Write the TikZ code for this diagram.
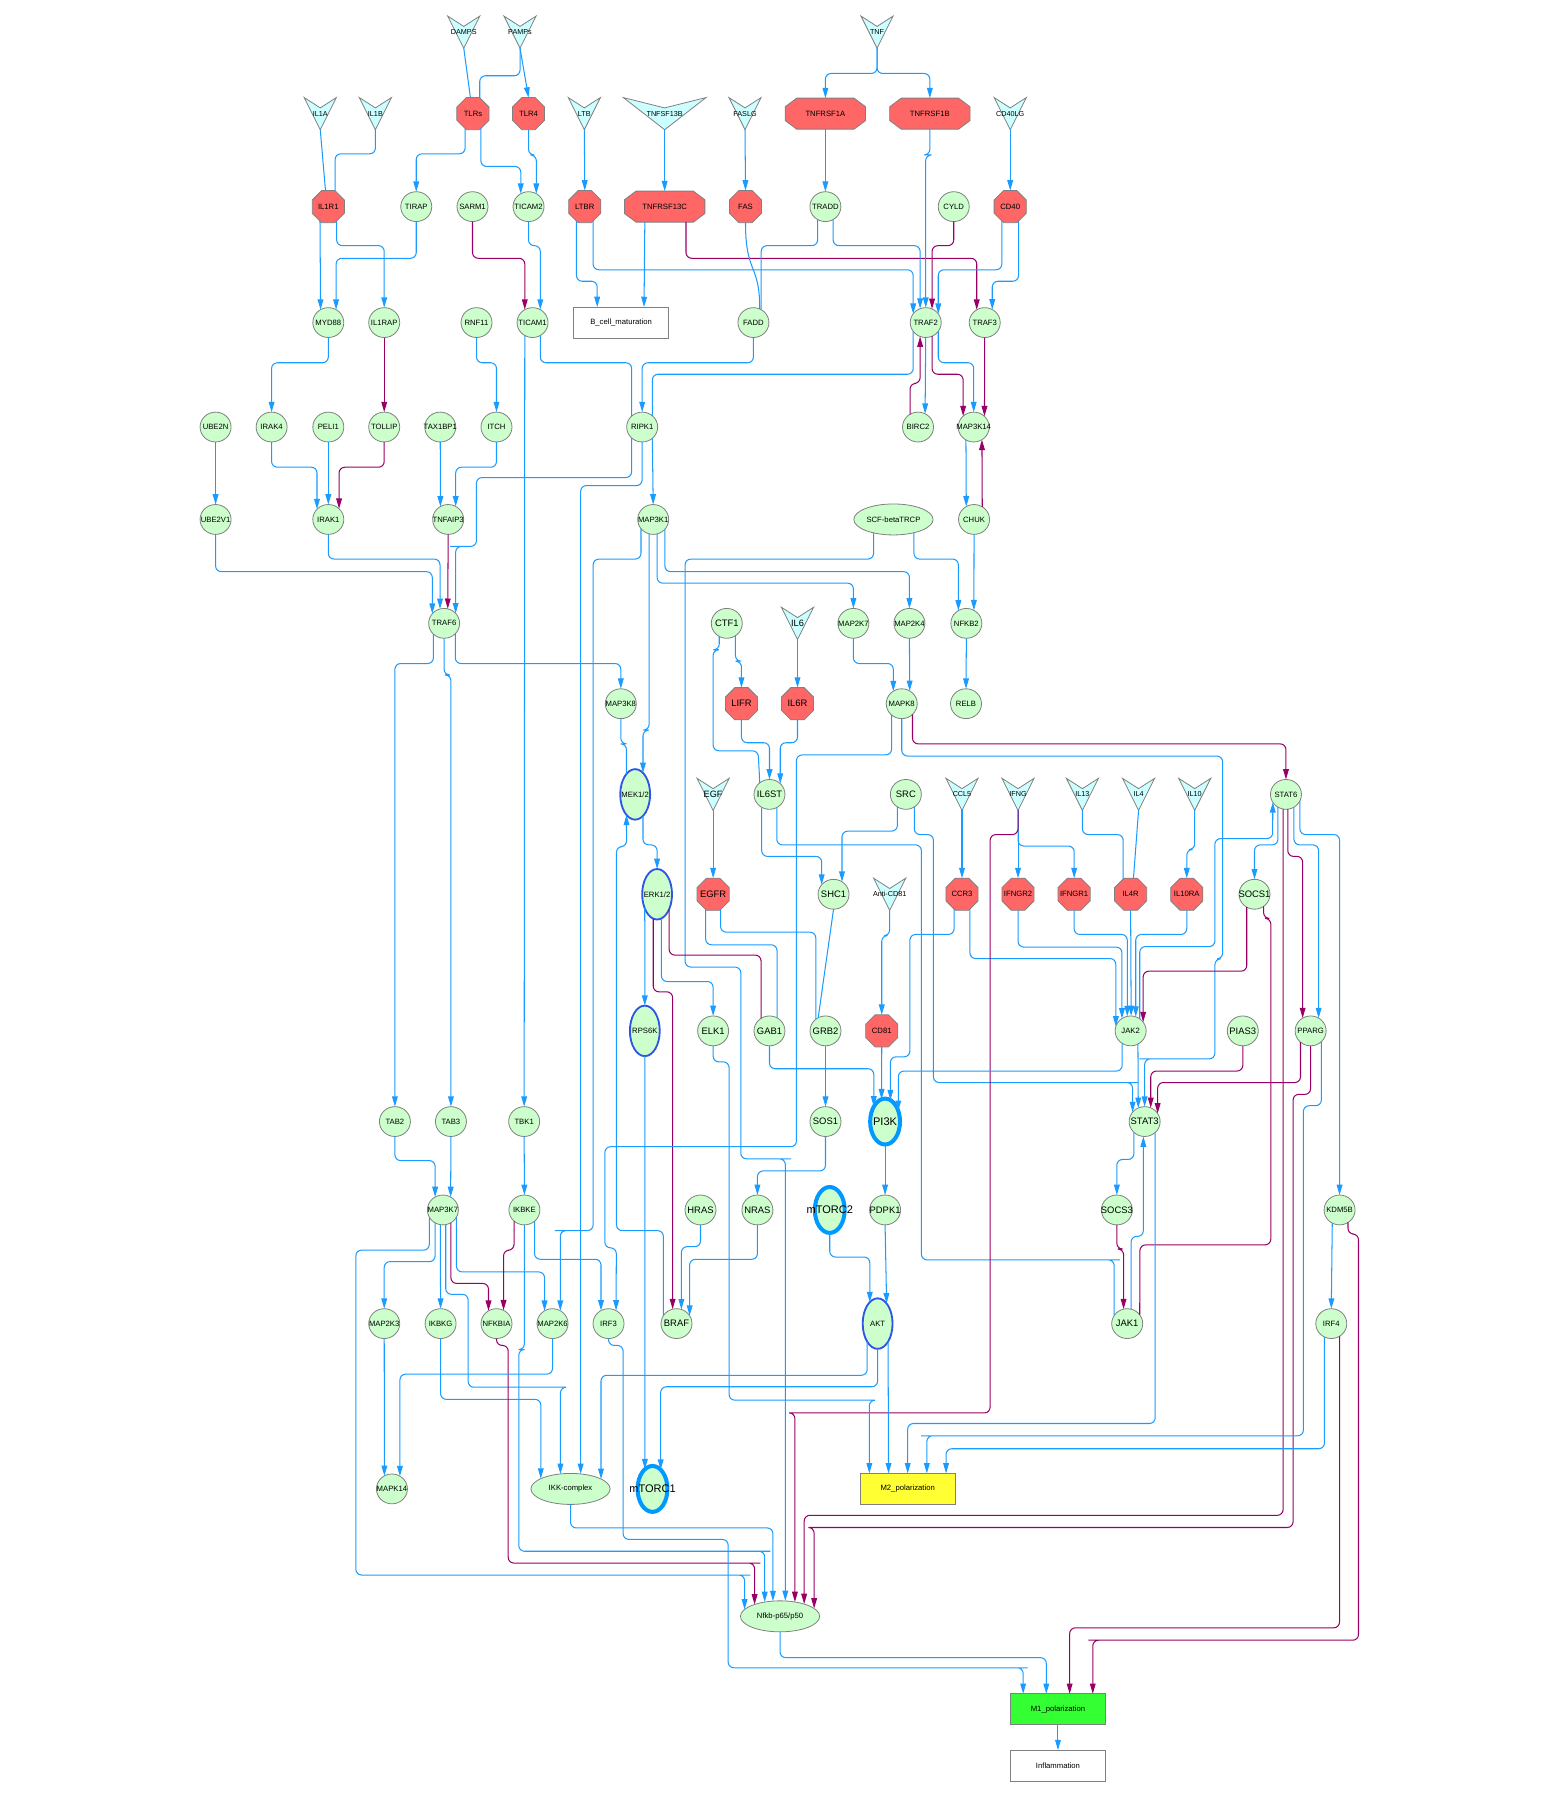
\documentclass[tikz,border=0pt]{standalone}
\usepackage{fontspec}
\setmainfont{Liberation Sans}
\usetikzlibrary{shapes.geometric,arrows.meta}
\definecolor{genefill}{RGB}{204,255,204}
\definecolor{recfill}{RGB}{255,102,102}
\definecolor{ligfill}{RGB}{204,255,255}
\definecolor{bordgray}{RGB}{128,128,128}
\definecolor{actblue}{RGB}{25,155,255}
\definecolor{inhred}{RGB}{153,0,102}
\definecolor{kinblue}{RGB}{45,85,230}
\definecolor{hubblue}{RGB}{0,153,255}
\definecolor{mtwo}{RGB}{255,255,51}
\definecolor{mone}{RGB}{51,255,51}
\tikzset{
  every node/.style={inner sep=0pt,outer sep=0pt},
  clap/.style={execute at begin node={\hbox to 0pt\bgroup\hss},execute at end node={\hss\egroup}},
  lab/.style={font=\fontsize{6.7}{7.5}\selectfont},
  big/.style={font=\fontsize{8.2}{9}\selectfont},
  gene/.style={ellipse,draw=bordgray,fill=genefill,line width=0.7pt,minimum width=27pt,minimum height=26pt,clap,lab},
  wgene/.style={gene,minimum width=69pt,minimum height=27pt},
  kin/.style={gene,draw=kinblue,line width=1.6pt,minimum width=26pt,minimum height=44pt},
  hub/.style={gene,draw=hubblue,line width=3.5pt,minimum width=26pt,minimum height=40pt,font=\fontsize{9.6}{10}\selectfont},
  rec/.style={regular polygon,regular polygon sides=8,minimum size=30.3pt,draw=bordgray,fill=recfill,line width=0.7pt,clap,lab},
  recshape/.style={fill=recfill,draw=bordgray,line width=0.7pt},
  wrec/.style={rectangle,minimum width=70pt,minimum height=27pt,lab},
  ligshape/.style={fill=ligfill,draw=bordgray,line width=0.7pt},
  lig/.style={rectangle,minimum width=28pt,minimum height=28pt,clap,font=\fontsize{6.3}{7}\selectfont},
  outbox/.style={rectangle,draw=bordgray,line width=0.8pt,minimum width=83pt,minimum height=27pt,lab},
  link/.style={draw=actblue,line width=0.9pt,rounded corners=5pt},
  act/.style={link,-{Triangle[length=9pt,width=5pt]}},
  inhl/.style={draw=inhred,line width=0.9pt,rounded corners=5pt},
  inh/.style={inhl,-{Triangle[length=9pt,width=5pt]}},
  ort/.style={to path={-- (\tikztostart|-0,#1) -| (\tikztotarget)}}
}
% ligand: V shape with a named node on it
\newcommand\ligand[5][14]{%
  \filldraw[ligshape] (#3-#1,#4-14) -- (#3,#4-5) -- (#3+#1,#4-14) -- (#3,#4+14) -- cycle;
  \node[lig] (#2) at (#3,#4) {#5};}
% wide receptor octagon
\newcommand\widerec[4]{%
  \filldraw[recshape] (#2-35,#3-6) -- (#2-25,#3-13.5) -- (#2+25,#3-13.5) -- (#2+35,#3-6) -- (#2+35,#3+6) -- (#2+25,#3+13.5) -- (#2-25,#3+13.5) -- (#2-35,#3+6) -- cycle;
  \node[wrec] (#1) at (#2,#3) {#4};}
\begin{document}
\begin{tikzpicture}[x=1pt,y=-1pt]
\useasboundingbox (0,0) rectangle (1355,1568);
% ligands
\ligand{DAMPS}{404}{28}{DAMPS}
\ligand{PAMPs}{453}{28}{PAMPs}
\ligand{TNF}{764}{28}{TNF}
\ligand{IL1A}{279}{99}{IL1A}
\ligand{IL1B}{327}{99}{IL1B}
\ligand{LTB}{509}{99}{LTB}
\ligand[36]{TNFSF13B}{579}{99}{TNFSF13B}
\ligand{FASLG}{649}{99}{FASLG}
\ligand{CD40LG}{880}{99}{CD40LG}
\ligand{IL6}{694.7}{543}{\fontsize{8}{8}\selectfont IL6}
\ligand{EGF}{621.2}{692}{\fontsize{8}{8}\selectfont EGF}
\ligand{CCL5}{838}{692}{CCL5}
\ligand{IFNG}{886.8}{692}{IFNG}
\ligand{IL13}{942.9}{692}{IL13}
\ligand{IL4}{991.8}{692}{IL4}
\ligand{IL10}{1040.7}{692}{IL10}
\ligand{AntiCD81}{775}{779}{Anti-CD81}
% receptors
\node[rec] (TLRs) at (412,99) {TLRs};
\node[rec] (TLR4) at (460.4,99) {TLR4};
\widerec{TNFRSF1A}{719}{99}{TNFRSF1A}
\widerec{TNFRSF1B}{810}{99}{TNFRSF1B}
\node[rec] (IL1R1) at (286,180) {IL1R1};
\node[rec] (LTBR) at (509.4,180) {LTBR};
\widerec{TNFRSF13C}{579}{180}{TNFRSF13C}
\node[rec] (FAS) at (649.4,180) {FAS};
\node[rec] (CD40) at (880,180) {CD40};
\node[rec,big] (LIFR) at (645.9,613) {LIFR};
\node[rec,big] (IL6R) at (694.7,613) {IL6R};
\node[rec,big] (EGFR) at (621.2,779) {EGFR};
\node[rec] (CCR3) at (838,779) {CCR3};
\node[rec] (IFNGR2) at (886.8,779) {IFNGR2};
\node[rec] (IFNGR1) at (935.7,779) {IFNGR1};
\node[rec] (IL4R) at (984.9,779) {IL4R};
\node[rec] (IL10RA) at (1033.8,779) {IL10RA};
\node[rec] (CD81) at (768.1,898) {CD81};
% genes
\node[gene] (TIRAP) at (362.6,180) {TIRAP};
\node[gene] (SARM1) at (411.6,180) {SARM1};
\node[gene] (TICAM2) at (460.4,180) {TICAM2};
\node[gene] (TRADD) at (719,180) {TRADD};
\node[gene] (CYLD) at (830.8,180) {CYLD};
\node[gene] (MYD88) at (286,281) {MYD88};
\node[gene] (IL1RAP) at (334.7,281) {IL1RAP};
\node[gene] (RNF11) at (415.1,281) {RNF11};
\node[gene] (TICAM1) at (463.9,281) {TICAM1};
\node[outbox] (Bcell) at (541,281) {B\_cell\_maturation};
\node[gene] (FADD) at (656.3,281) {FADD};
\node[gene] (TRAF2) at (806.4,281) {TRAF2};
\node[gene] (TRAF3) at (857.8,281) {TRAF3};
\node[gene] (UBE2N) at (187.8,372) {UBE2N};
\node[gene] (IRAK4) at (236.6,372) {IRAK4};
\node[gene] (PELI1) at (286,372) {PELI1};
\node[gene] (TOLLIP) at (334.7,372) {TOLLIP};
\node[gene] (TAX1BP1) at (383.5,372) {TAX1BP1};
\node[gene] (ITCH) at (432.5,372) {ITCH};
\node[gene] (RIPK1) at (559.4,372) {RIPK1};
\node[gene] (BIRC2) at (799.7,372) {BIRC2};
\node[gene] (MAP3K14) at (848.2,372) {MAP3K14};
\node[gene] (UBE2V1) at (187.8,452.5) {UBE2V1};
\node[gene] (IRAK1) at (286,452.5) {IRAK1};
\node[gene] (TNFAIP3) at (390.4,452.5) {TNFAIP3};
\node[gene] (MAP3K1) at (569,452.5) {MAP3K1};
\node[wgene] (SCF) at (778.3,452.5) {SCF-betaTRCP};
\node[gene] (CHUK) at (848.5,452.5) {CHUK};
\node[gene] (TRAF6) at (386.9,543) {TRAF6};
\node[gene,big] (CTF1) at (633.1,543) {CTF1};
\node[gene] (MAP2K7) at (743.4,543) {MAP2K7};
\node[gene] (MAP2K4) at (792.2,543) {MAP2K4};
\node[gene] (NFKB2) at (841.8,543) {NFKB2};
\node[gene] (MAP3K8) at (540.8,613) {MAP3K8};
\node[gene] (MAPK8) at (785.5,613) {MAPK8};
\node[gene] (RELB) at (841.5,613) {RELB};
\node[kin] (MEK) at (553.3,692) {MEK1/2};
\node[gene,big] (IL6ST) at (670.3,692) {IL6ST};
\node[gene,big] (SRC) at (789.1,692) {SRC};
\node[gene] (STAT6) at (1120.2,692) {STAT6};
\node[kin] (ERK) at (572.4,779) {ERK1/2};
\node[gene,big] (SHC1) at (726.1,779) {SHC1};
\node[gene,big] (SOCS1) at (1092.8,779) {SOCS1};
\node[kin] (RPS6K) at (561.7,898) {RPS6K};
\node[gene,big] (ELK1) at (621.2,898) {ELK1};
\node[gene,big] (GAB1) at (670.3,898) {GAB1};
\node[gene,big] (GRB2) at (719.1,898) {GRB2};
\node[gene] (JAK2) at (984.9,898) {JAK2};
\node[gene,big] (PIAS3) at (1082.6,898) {PIAS3};
\node[gene] (PPARG) at (1141.7,898) {PPARG};
\node[gene] (TAB2) at (344,977) {TAB2};
\node[gene] (TAB3) at (392.8,977) {TAB3};
\node[gene] (TBK1) at (456.6,977) {TBK1};
\node[gene,big] (SOS1) at (719.1,977) {SOS1};
\node[hub] (PI3K) at (771,977) {PI3K};
\node[gene,big] (STAT3) at (997.1,977) {STAT3};
\node[gene] (MAP3K7) at (385.8,1054) {MAP3K7};
\node[gene] (IKBKE) at (456.8,1054) {IKBKE};
\node[gene,big] (HRAS) at (610.2,1054) {HRAS};
\node[gene,big] (NRAS) at (659.8,1054) {NRAS};
\node[hub] (mTORC2) at (722.8,1054) {mTORC2};
\node[gene,big] (PDPK1) at (771,1054) {PDPK1};
\node[gene,big] (SOCS3) at (972.9,1054) {SOCS3};
\node[gene] (KDM5B) at (1166.9,1054) {KDM5B};
\node[gene] (MAP2K3) at (334.7,1153) {MAP2K3};
\node[gene] (IKBKG) at (383.8,1153) {IKBKG};
\node[gene] (NFKBIA) at (432.5,1153) {NFKBIA};
\node[gene] (MAP2K6) at (481.3,1153) {MAP2K6};
\node[gene] (IRF3) at (530.1,1153) {IRF3};
\node[gene,big] (BRAF) at (589.3,1153) {BRAF};
\node[kin] (AKT) at (764.5,1153) {AKT};
\node[gene,big] (JAK1) at (981.9,1153) {JAK1};
\node[gene] (IRF4) at (1159.7,1153) {IRF4};
\node[gene] (MAPK14) at (341.4,1297) {MAPK14};
\node[wgene] (IKK) at (497,1297) {IKK-complex};
\node[hub] (mTORC1) at (568.4,1297) {mTORC1};
\node[outbox,fill=mtwo] (M2) at (790.7,1297) {M2\_polarization};
\node[wgene] (Nfkb) at (679.5,1408) {Nfkb-p65/p50};
\node[outbox,fill=mone] (M1) at (921.6,1489) {M1\_polarization};
\node[outbox] (Infl) at (921.6,1538) {Inflammation};
% top receptors
\draw[link] (DAMPS.south) -- (TLRs.99);
\draw[link] (PAMPs.south) to[ort=66] (TLRs.67);
\draw[act] (PAMPs.south) -- (TLR4.north);
\draw[link] (IL1A.south) -- (IL1R1.100);
\draw[link] (IL1B.south) to[ort=134] (IL1R1.67);
\draw[act] (LTB.south) -- (LTBR.north);
\draw[act] (TNFSF13B.south) -- (TNFRSF13C.north);
\draw[act] (FASLG.south) -- (FAS.north);
\draw[act] (TNF.south) to[ort=64] (TNFRSF1A.north);
\draw[act] (TNF.south) to[ort=64] (TNFRSF1B.north);
\draw[act] (CD40LG.south) -- (CD40.north);
\draw[act] (TLRs.-118) to[ort=134] (TIRAP.north);
\draw[act] (TLRs.-62) to[ort=145] (TICAM2.121);
\draw[act] (TLR4.south) to[ort=135] (TICAM2.59);
\draw[act] (TNFRSF1A.south) -- (TRADD.north);
% adaptors
\draw[act] (IL1R1.-120) -- (MYD88.121);
\draw[act] (IL1R1.-60) to[ort=214] (IL1RAP.north);
\draw[act] (TIRAP.south) to[ort=225] (MYD88.59);
\draw[inh] (SARM1.south) to[ort=225] (TICAM1.121);
\draw[act] (TICAM2.south) to[ort=214] (TICAM1.59);
\draw[act] (LTBR.-120) to[ort=245] (Bcell.147);
\draw[act] (LTBR.-60) to[ort=235] (TRAF2.145);
\draw[act] (TNFRSF13C.-142) -- (Bcell.34);
\draw[inh] (TNFRSF13C.-36) to[ort=225] (TRAF3.122);
\draw[link] (FAS.south) .. controls +(0,45) and +(0,-40) .. (FADD.65);
\draw[link] (TRADD.-121) to[ort=214] (FADD.59);
\draw[act] (TRADD.-59) to[ort=214] (TRAF2.112);
\draw[act] (TNFRSF1B.south) to[ort=135] (TRAF2.north);
\draw[inh] (CYLD.south) to[ort=214] (TRAF2.65);
\draw[act] (CD40.-120) to[ort=235] (TRAF2.35);
\draw[act] (CD40.-60) to[ort=245] (TRAF3.60);
\draw[act] (MYD88.south) to[ort=316] (IRAK4.north);
\draw[inh] (IL1RAP.south) -- (TOLLIP.north);
\draw[act] (RNF11.south) to[ort=316] (ITCH.north);
\draw[act] (TICAM1.-121) -- (TBK1.north);
\draw[link] (TICAM1.-59) to[ort=316] (RIPK1.134);
\draw[act] (FADD.south) to[ort=316] (RIPK1.north);
\draw[link] (TRAF2.-145) to[ort=326] (RIPK1.48);
\draw[act] (TRAF2.south) -- (BIRC2.62);
\draw[inh] (BIRC2.122) to[ort=334] (TRAF2.-112);
\draw[inh] (TRAF2.-65) to[ort=326] (MAP3K14.134);
\draw[act] (TRAF2.-35) to[ort=316] (MAP3K14.north);
\draw[inh] (TRAF3.south) -- (MAP3K14.45);
\draw[act] (UBE2N.south) -- (UBE2V1.north);
\draw[act] (IRAK4.south) to[ort=407] (IRAK1.138);
\draw[act] (PELI1.south) -- (IRAK1.north);
\draw[inh] (TOLLIP.south) to[ort=407] (IRAK1.45);
\draw[act] (TAX1BP1.south) -- (TNFAIP3.121);
\draw[act] (ITCH.south) to[ort=407] (TNFAIP3.60);
\draw[act] (RIPK1.-48) -- (MAP3K1.north);
\draw[act] (MAP3K14.-121) -- (CHUK.121);
\draw[inh] (CHUK.57) -- (MAP3K14.-57);
% TRAF6
\draw[act] (UBE2V1.south) to[ort=498] (TRAF6.141);
\draw[act] (IRAK1.south) to[ort=487] (TRAF6.106);
\draw[inh] (TNFAIP3.south) -- (TRAF6.76);
\draw[act] (RIPK1.-134) |- (415,416) |- (397.1,476) -| (TRAF6.41);
\draw[act] (RIPK1.south) to[ort=423] (IKK.56);
\draw[act] (TRAF6.-135) to[ort=578] (TAB2.north);
\draw[act] (TRAF6.south) to[ort=588] (TAB3.north);
\draw[act] (TRAF6.-43) to[ort=578] (MAP3K8.north);
% MAP kinases
\draw[act] (MAP3K1.-143) |- (516.7,487) |- (488.3,1072) -| (MAP2K6.59);
\draw[act] (MAP3K1.-106) to[ort=636] (MEK.70);
\draw[act] (MAP3K1.-75) to[ort=508] (MAP2K7.north);
\draw[act] (MAP3K1.-40) to[ort=498] (MAP2K4.north);
\draw[act] (SCF.-146) |- (596.8,487) |- (645.3,842.4) |- (684.1,1009.5) -| (Nfkb.71);
\draw[act] (SCF.-33) to[ort=487] (NFKB2.122);
\draw[act] (CHUK.south) -- (NFKB2.60);
\draw[act] (NFKB2.south) -- (RELB.north);
\draw[act] (MAP2K7.south) to[ort=578] (MAPK8.124);
\draw[act] (MAP2K4.south) -- (MAPK8.58);
\draw[link] (MAP3K8.south) to[ort=648] (MEK.113);
\draw[act] (MEK.-70) to[ort=736] (ERK.north);
\draw[act] (BRAF.149) |- (537,1072) |- (545.8,737.5) -- (MEK.-113);
\draw[act] (ERK.-131) -- (RPS6K.north);
\draw[inh] (ERK.-99) to[ort=864] (BRAF.105);
\draw[act] (ERK.-80) to[ort=855] (ELK1.north);
\draw[inhl] (ERK.-51) to[ort=832] (GAB1.124);
\draw[act] (RPS6K.south) -- (mTORC1.111);
% IL6 family and growth factors
\draw[link] (CTF1.-120) |- (621.2,566) |- (660.4,654) -- (IL6ST.130);
\draw[act] (CTF1.-55) to[ort=576] (LIFR.north);
\draw[act] (IL6.south) -- (IL6R.north);
\draw[act] (LIFR.south) to[ort=647] (IL6ST.north);
\draw[act] (IL6R.south) to[ort=647] (IL6ST.45);
\draw[act] (IL6ST.-121) to[ort=746] (SHC1.141);
\draw[link] (IL6ST.-61) |- (802.6,736) |- (970.5,1097.5) -| (JAK1.148);
\draw[act] (EGF.south) -- (EGFR.north);
\draw[link] (EGFR.-116) to[ort=823] (GAB1.60);
\draw[link] (EGFR.-64) to[ort=812] (GRB2.130);
\draw[act] (SRC.-124) to[ort=724] (SHC1.56);
\draw[act] (SRC.-56) |- (813.1,727) |- (986.4,943) -| (STAT3.142);
\draw[link] (SHC1.south) -- (GRB2.119);
\draw[act] (GRB2.south) -- (SOS1.north);
\draw[act] (SOS1.south) to[ort=1020] (NRAS.north);
\draw[act] (GAB1.south) to[ort=931] (PI3K.127);
\draw[act] (AntiCD81.south) to[ort=815] (CD81.north);
\draw[act] (CD81.south) -- (PI3K.99);
% cytokine receptors
\draw[act] (CCL5.south) -- (CCR3.north);
\draw[act] (CCR3.-118) |- (792.6,814) |- (775.6,920.6) -- (PI3K.76);
\draw[act] (CCR3.-62) to[ort=835] (JAK2.163);
\draw[act] (IFNG.south) -- (IFNGR2.north);
\draw[act] (IFNG.south) to[ort=737] (IFNGR1.north);
\draw[inh] (IFNG.south) |- (862.5,727) |- (692.3,1230.8) -| (Nfkb.44);
\draw[act] (IFNGR2.south) to[ort=825] (JAK2.125);
\draw[act] (IFNGR1.south) to[ort=814] (JAK2.103);
\draw[link] (IL13.south) to[ort=727] (IL4R.116);
\draw[link] (IL4.south) -- (IL4R.80);
\draw[act] (IL4R.south) -- (JAK2.88);
\draw[act] (IL10.south) to[ort=740] (IL10RA.north);
\draw[act] (IL10RA.south) to[ort=814] (JAK2.70);
% JAK / STAT
\draw[act] (JAK2.-61) -- (STAT3.115);
\draw[act] (JAK2.-124) to[ort=933] (PI3K.39);
\draw[act] (JAK2.53) |- (1058.3,824.6) |- (1108.6,730.5) -- (STAT6.-149);
\draw[act] (MAPK8.south) |- (1065,658.6) |- (1058.3,835.3) |- (997.5,922.4) -| (STAT3.north);
\draw[inh] (MAPK8.-45) to[ort=648] (STAT6.north);
\draw[act] (MAPK8.-132) |- (693.8,657.6) |- (526.9,998.9) |- (536.9,1087) -- (IRF3.60);
\draw[act] (STAT6.-122) to[ort=736] (SOCS1.north);
\draw[inh] (STAT6.-101) to[ort=1320] (Nfkb.27);
\draw[inh] (STAT6.-83) to[ort=746] (PPARG.122);
\draw[act] (STAT6.-58) to[ort=736] (PPARG.58);
\draw[act] (STAT6.-25) to[ort=727] (KDM5B.north);
\draw[inh] (SOCS1.-121) to[ort=846] (JAK2.35);
\draw[inhl] (SOCS1.-53) |- (1107,800) |- (993,1084.4) -- (JAK1.35);
\draw[inh] (PIAS3.south) to[ort=933] (STAT3.66);
\draw[inh] (PPARG.-132) to[ort=943] (STAT3.32);
\draw[inh] (PPARG.south) |- (1126.4,953.3) |- (709.1,1330.6) -| (Nfkb.13);
\draw[act] (PPARG.-45) |- (1135.4,963.2) |- (807.4,1250.7) -| (M2.39);
\draw[act] (STAT3.-135) to[ort=1010] (SOCS3.north);
\draw[act] (STAT3.-46) to[ort=1240] (M2.north);
\draw[act] (JAK1.75) to[ort=1077] (STAT3.-95);
\draw[inh] (SOCS3.south) to[ort=1088] (JAK1.104);
% TAK1 / IKK
\draw[act] (TAB2.south) to[ort=1011] (MAP3K7.121);
\draw[act] (TAB3.south) -- (MAP3K7.59);
\draw[act] (TBK1.south) -- (IKBKE.north);
\draw[act] (MAP3K7.-152) |- (310,1089) |- (648.6,1372) -| (Nfkb.169);
\draw[act] (MAP3K7.-121) to[ort=1099] (MAP2K3.north);
\draw[act] (MAP3K7.-100) -- (IKBKG.north);
\draw[act] (MAP3K7.-79) |- (407.8,1127.5) |- (488.2,1208.4) -| (IKK.124);
\draw[inh] (MAP3K7.-58) to[ort=1118] (NFKBIA.122);
\draw[act] (MAP3K7.-28) to[ort=1108] (MAP2K6.122);
\draw[inh] (IKBKE.-133) to[ort=1089] (NFKBIA.62);
\draw[act] (IKBKE.south) |- (451.9,1175.6) |- (666.1,1351.3) -| (Nfkb.137);
\draw[act] (IKBKE.-48) to[ort=1097] (IRF3.120);
\draw[act] (IKBKG.south) to[ort=1219] (IKK.161);
\draw[inh] (NFKBIA.south) |- (442.7,1172) |- (657.3,1361.6) -| (Nfkb.155);
\draw[act] (MAP2K3.south) -- (MAPK14.120);
\draw[act] (MAP2K6.south) to[ort=1197] (MAPK14.58);
\draw[act] (IKK.south) to[ort=1331] (Nfkb.115);
\draw[act] (HRAS.south) to[ort=1086] (BRAF.71);
\draw[act] (NRAS.south) to[ort=1097] (BRAF.31);
% polarization
\draw[act] (IRF3.south) |- (542.8,1172) |- (634.3,1341) |- (890.1,1452.8) -| (M1.156);
\draw[act] (ELK1.south) |- (635.1,925) |- (757.3,1219.7) -| (M2.158);
\draw[act] (PI3K.south) -- (PDPK1.north);
\draw[act] (PDPK1.south) -- (AKT.66);
\draw[act] (mTORC2.south) to[ort=1095] (AKT.110);
\draw[act] (AKT.-60) -- (M2.141);
\draw[act] (AKT.-120) to[ort=1198] (IKK.18);
\draw[act] (AKT.south) to[ort=1208] (mTORC1.67);
\draw[act] (KDM5B.-119) -- (IRF4.north);
\draw[inh] (KDM5B.-56) |- (1183.4,1075) |- (953.1,1428.8) -| (M1.24);
\draw[inh] (IRF4.-57) to[ort=1418] (M1.53);
\draw[act] (IRF4.-117) to[ort=1262] (M2.22);
\draw[act] (Nfkb.south) to[ort=1444] (M1.127);
\draw[act] (M1.south) -- (Infl.north);
\end{tikzpicture}
\end{document}
